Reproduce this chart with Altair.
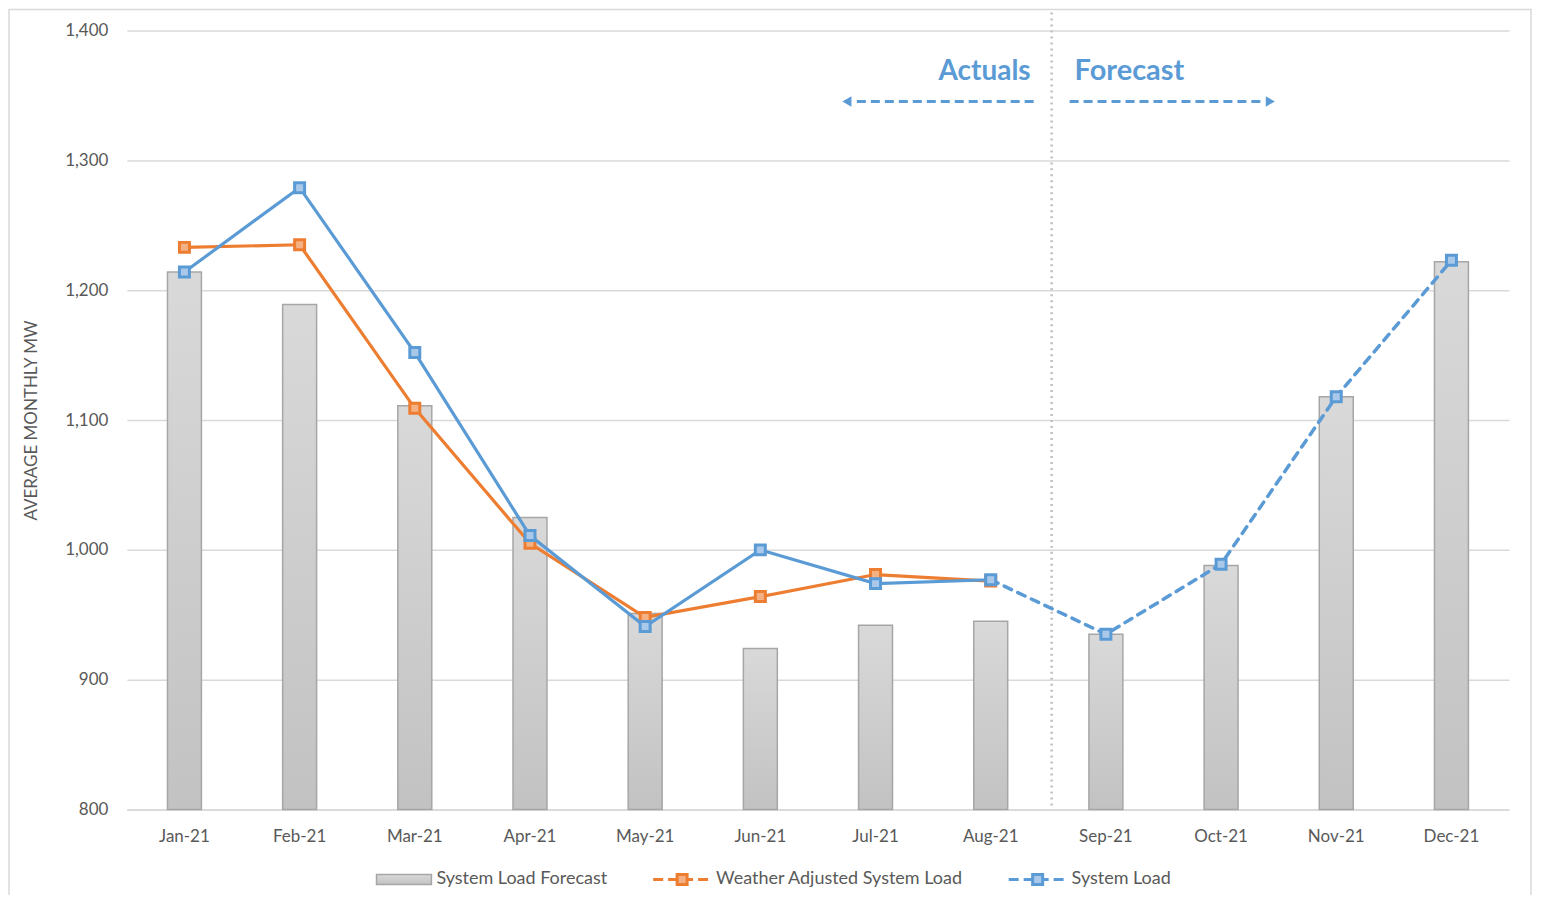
import altair as alt
import pandas as pd

months = ["Jan-21", "Feb-21", "Mar-21", "Apr-21", "May-21", "Jun-21",
          "Jul-21", "Aug-21", "Sep-21", "Oct-21", "Nov-21", "Dec-21"]
forecast = [1214, 1189, 1111, 1025, 951, 924, 942, 945, 935, 988, 1118, 1222]
system_load = [1214, 1279, 1152, 1011, 941, 1000, 974, 977, 935, 989, 1118, 1223]
weather_adj = [1233, 1235, 1109, 1005, 948, 964, 981, 976]

BLUE = "#5B9BD5"
ORANGE = "#ED7D31"
GRAY_TXT = "#595959"
FONT = "Lato"
FS = 17

W, H = 1384, 780

df_bar = pd.DataFrame({"month": months, "value": forecast})
df_wa = pd.DataFrame({"month": months[:8], "value": weather_adj})
df_sl_act = pd.DataFrame({"month": months[:8], "value": system_load[:8]})
df_sl_fc = pd.DataFrame({"month": months[7:], "value": system_load[7:]})
df_sl = pd.DataFrame({"month": months, "value": system_load})

xenc = alt.X("month:N", sort=months,
             scale=alt.Scale(paddingInner=0, paddingOuter=0),
             axis=alt.Axis(title=None, labelAngle=0, ticks=False, domain=True,
                           domainColor="#D9D9D9", domainWidth=1.5,
                           labelColor=GRAY_TXT, labelFontSize=FS, labelFont=FONT,
                           labelPadding=19, grid=False))
yscale = alt.Scale(domain=[800, 1400], nice=False, zero=False)
yenc = alt.Y("value:Q", scale=yscale,
             axis=alt.Axis(title="AVERAGE MONTHLY MW", values=[800, 900, 1000, 1100, 1200, 1300, 1400],
                           format=",.0f", ticks=False, domain=False,
                           gridColor="#D9D9D9", gridWidth=1.5,
                           labelColor=GRAY_TXT, labelFontSize=FS, labelFont=FONT,
                           labelPadding=19, titleColor=GRAY_TXT, titleFontSize=17,
                           titleFont=FONT, titleFontWeight="normal", titlePadding=24))

grad = alt.Gradient(gradient="linear",
                    stops=[alt.GradientStop(color="#D9D9D9", offset=0),
                           alt.GradientStop(color="#C2C2C2", offset=1)],
                    x1=0, x2=0, y1=0, y2=1)

bars = alt.Chart(df_bar).mark_bar(size=34, fill=grad, stroke="#A6A6A6", strokeWidth=1.5).encode(
    x=xenc, y=yenc, y2=alt.datum(800))

MS = 100
wa_line = alt.Chart(df_wa).mark_line(color=ORANGE, strokeWidth=3.2).encode(x=xenc, y=yenc)
wa_pts = alt.Chart(df_wa).mark_point(shape="square", size=MS, filled=True, fill="#F4B183",
                                      stroke=ORANGE, strokeWidth=3, opacity=1).encode(x=xenc, y=yenc)
sl_line = alt.Chart(df_sl_act).mark_line(color=BLUE, strokeWidth=3.2).encode(x=xenc, y=yenc)
sl_dash = alt.Chart(df_sl_fc).mark_line(color=BLUE, strokeWidth=3.5, strokeDash=[8, 7],
                                         strokeCap="round").encode(x=xenc, y=yenc)
sl_pts = alt.Chart(df_sl).mark_point(shape="square", size=MS, filled=True, fill="#A9C8EA",
                                      stroke=BLUE, strokeWidth=3, opacity=1).encode(x=xenc, y=yenc)

one = pd.DataFrame({"a": [0]})

divider = alt.Chart(one).mark_rule(color="#BFBFBF", strokeWidth=2.5, strokeDash=[2, 4]).encode(
    x=alt.value(926), y=alt.value(-18), y2=alt.value(H))

actuals = alt.Chart(one).mark_text(text="Actuals", align="right", baseline="alphabetic",
                                   font=FONT, fontSize=28, fontWeight="bold", color=BLUE).encode(
    x=alt.value(905), y=alt.value(50))
forecast_txt = alt.Chart(one).mark_text(text="Forecast", align="left", baseline="alphabetic",
                                        font=FONT, fontSize=29, fontWeight="bold", color=BLUE).encode(
    x=alt.value(949), y=alt.value(50))
arrow_l = alt.Chart(one).mark_rule(color=BLUE, strokeWidth=3, strokeDash=[9, 5]).encode(
    x=alt.value(908), x2=alt.value(726), y=alt.value(71))
head_l = alt.Chart(one).mark_point(shape="triangle-left", size=110, filled=True, color=BLUE, opacity=1).encode(
    x=alt.value(721), y=alt.value(71))
arrow_r = alt.Chart(one).mark_rule(color=BLUE, strokeWidth=3, strokeDash=[9, 5]).encode(
    x=alt.value(944), x2=alt.value(1140), y=alt.value(71))
head_r = alt.Chart(one).mark_point(shape="triangle-right", size=110, filled=True, color=BLUE, opacity=1).encode(
    x=alt.value(1145), y=alt.value(71))

# legend
LY = 850
LFS = 18
leg_rect = alt.Chart(one).mark_rect(fill=grad, stroke="#A6A6A6", strokeWidth=1.5).encode(
    x=alt.value(250), x2=alt.value(305), y=alt.value(LY - 5), y2=alt.value(LY + 5))
leg_t1 = alt.Chart(one).mark_text(text="System Load Forecast", align="left", baseline="middle",
                                  font=FONT, fontSize=LFS, color=GRAY_TXT).encode(
    x=alt.value(310), y=alt.value(LY))
leg_l2 = alt.Chart(one).mark_rule(color=ORANGE, strokeWidth=3, strokeDash=[10, 5]).encode(
    x=alt.value(527), x2=alt.value(587), y=alt.value(LY))
leg_p2 = alt.Chart(one).mark_point(shape="square", size=MS, filled=True, fill="#F4B183",
                                   stroke=ORANGE, strokeWidth=3, opacity=1).encode(
    x=alt.value(556), y=alt.value(LY))
leg_t2 = alt.Chart(one).mark_text(text="Weather Adjusted System Load", align="left", baseline="middle",
                                  font=FONT, fontSize=LFS, color=GRAY_TXT).encode(
    x=alt.value(590), y=alt.value(LY))
leg_l3 = alt.Chart(one).mark_rule(color=BLUE, strokeWidth=3, strokeDash=[10, 5]).encode(
    x=alt.value(883), x2=alt.value(943), y=alt.value(LY))
leg_p3 = alt.Chart(one).mark_point(shape="square", size=MS, filled=True, fill="#A9C8EA",
                                   stroke=BLUE, strokeWidth=3, opacity=1).encode(
    x=alt.value(912), y=alt.value(LY))
leg_t3 = alt.Chart(one).mark_text(text="System Load", align="left", baseline="middle",
                                  font=FONT, fontSize=LFS, color=GRAY_TXT).encode(
    x=alt.value(946), y=alt.value(LY))

border = alt.Chart(one).mark_rect(fill=None, stroke="#D9D9D9", strokeWidth=1.5).encode(
    x=alt.value(-118), x2=alt.value(W + 22), y=alt.value(-21), y2=alt.value(H + 120))

chart = alt.layer(
    border, bars, divider, wa_line, wa_pts, sl_line, sl_dash, sl_pts,
    actuals, forecast_txt, arrow_l, head_l, arrow_r, head_r,
    leg_rect, leg_t1, leg_l2, leg_p2, leg_t2, leg_l3, leg_p3, leg_t3,
).properties(
    width=W, height=H,
    background="white",
    padding={"left": 119, "top": 22, "right": 24, "bottom": 85},
    autosize=alt.AutoSizeParams(type="none"),
).configure_view(strokeWidth=0, stroke=None)

chart.save("out.html", embed_options={"renderer": "svg", "actions": False})
